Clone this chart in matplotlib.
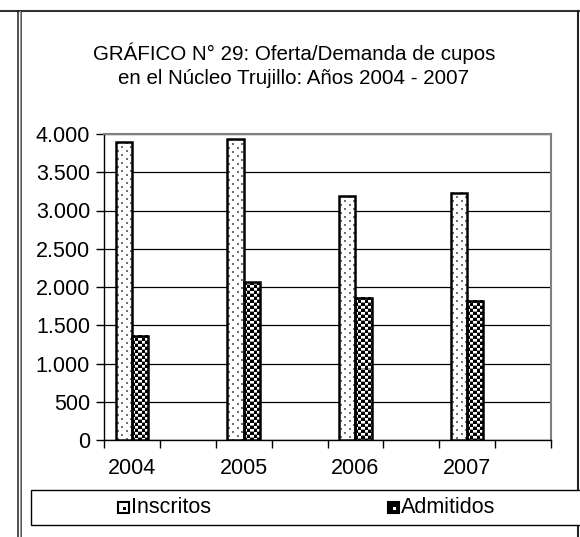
import numpy as np
import matplotlib
matplotlib.use('Agg')
import matplotlib.pyplot as plt
from matplotlib.patches import Rectangle
from matplotlib.lines import Line2D

plt.rcParams['font.family'] = ['Liberation Sans', 'DejaVu Sans']

# datos
years = ['2004', '2005', '2006', '2007']
inscritos = [3890, 3930, 3185, 3230]
admitidos = [1365, 2065, 1860, 1820]
yticks = [0, 500, 1000, 1500, 2000, 2500, 3000, 3500, 4000]
ytick_labels = ['0', '500', '1.000', '1.500', '2.000', '2.500', '3.000', '3.500', '4.000']
title = 'GRÁFICO N° 29: Oferta/Demanda de cupos\nen el Núcleo Trujillo: Años 2004 - 2007'

W, H = 580, 537
fig = plt.figure(figsize=(W / 100, H / 100), dpi=100)


def fx(x):
    return x / W


def fy(y):
    return 1 - y / H


ax = fig.add_axes([fx(104), fy(440), fx(551) - fx(104), fy(134) - fy(440)])

pos = np.arange(len(years)) * 2
bw = 0.29
b1 = ax.bar(pos, inscritos, width=-bw, align='edge', facecolor='none',
            edgecolor='black', linewidth=1.8, zorder=4)
b2 = ax.bar(pos, admitidos, width=bw, align='edge', facecolor='none',
            edgecolor='black', linewidth=1.8, zorder=4)

ax.set_xlim(-0.5, 2 * len(years) - 0.5)
ax.set_ylim(0, 4000)

# texturas (puntos y damero)
dots = np.ones((8, 8))
dots[0:2, 1:3] = 0.45
dots[4:6, 5:7] = 0.45
checker = np.ones((6, 6))
checker[0:3, 0:3] = 0.0
checker[3:6, 3:6] = 0.0
checker[2, 3:6] = 0.6
checker[5, 0:3] = 0.6


def texture(bar, tile):
    x0, y0 = bar.get_x(), bar.get_y()
    w, h = bar.get_width(), bar.get_height()
    (p0, q0), (p1, q1) = ax.transData.transform([(x0, y0), (x0 + w, y0 + h)])
    nx, ny = max(1, int(round(abs(p1 - p0)))), max(1, int(round(abs(q1 - q0))))
    th, tw = tile.shape
    img = np.tile(tile, (ny // th + 2, nx // tw + 2))[:ny, :nx]
    ax.imshow(img, extent=(min(x0, x0 + w), max(x0, x0 + w), y0, y0 + h),
              cmap='gray', vmin=0, vmax=1, interpolation='nearest',
              aspect='auto', zorder=3)


for b in b1:
    texture(b, dots)
for b in b2:
    texture(b, checker)

ax.set_xlim(-0.5, 2 * len(years) - 0.5)
ax.set_ylim(0, 4000)

ax.set_yticks(yticks)
ax.set_yticklabels(ytick_labels, fontsize=15.5)
ax.set_xticks(np.arange(-0.5, 2 * len(years)), labels=[])
ax.set_xticks(pos, labels=years, minor=True)
ax.tick_params(axis='x', which='minor', length=0, labelsize=15.5, pad=13)
ax.tick_params(axis='both', which='major', direction='out', length=6, width=1, color='black')
ax.tick_params(axis='y', pad=4)

ax.yaxis.grid(True, color='black', linewidth=0.9)
ax.set_axisbelow(True)
for s in ['top', 'right']:
    ax.spines[s].set_color('#808080')
    ax.spines[s].set_linewidth(1.5)
for s in ['left', 'bottom']:
    ax.spines[s].set_color('black')
    ax.spines[s].set_linewidth(1)

fig.text(fx(294), fy(65), title, ha='center', va='center', fontsize=14.8,
         linespacing=1.3)

# marco exterior
fig.add_artist(Line2D([0, fx(579)], [fy(10.5), fy(10.5)], color='#333333', linewidth=1.5))
fig.add_artist(Line2D([fx(18), fx(18)], [fy(10.5), 0], color='#222222', linewidth=1.1))
fig.add_artist(Line2D([fx(21), fx(21)], [fy(10.5), 0], color='#222222', linewidth=1.1))
fig.add_artist(Line2D([fx(19.5), fx(19.5)], [fy(10.5), 0], color='#999999', linewidth=0.8))
fig.add_artist(Line2D([fx(577.5), fx(577.5)], [fy(10.5), 0], color='#222222', linewidth=1.5))

# leyenda
fig.add_artist(Rectangle((fx(31), fy(525)), fx(620) - fx(31), fy(490) - fy(525),
                         facecolor='white', edgecolor='black', linewidth=1,
                         clip_on=False, zorder=5))
legend_items = [('Inscritos', 118, 'white', 'black'), ('Admitidos', 388, 'black', 'white')]
for name, x, outer, inner in legend_items:
    fig.add_artist(Rectangle((fx(x), fy(513)), fx(11), fy(502) - fy(513),
                             facecolor=outer, edgecolor='black', linewidth=1.5, zorder=6))
    fig.add_artist(Rectangle((fx(x + 5), fy(510)), fx(3), fy(507) - fy(510),
                             facecolor=inner, edgecolor='none', zorder=7))
    fig.text(fx(x + 13), fy(507.5), name, ha='left', va='center', fontsize=15.5, zorder=8)

fig.savefig('out.png', dpi=100)
